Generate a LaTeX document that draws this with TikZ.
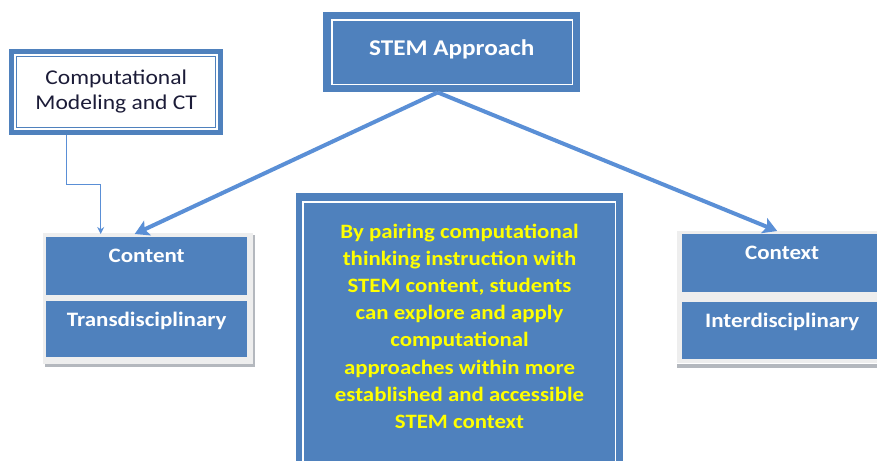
\documentclass[tikz,border=0pt]{standalone}
\usepackage{fontspec}
\setmainfont[FakeStretch=1.12]{Carlito}
\usetikzlibrary{arrows.meta}
\definecolor{boxblue}{HTML}{4F81BD}
\definecolor{linkblue}{HTML}{5A8FD6}
\definecolor{txtyellow}{HTML}{FFFF00}
\definecolor{navy}{HTML}{1C1C38}
\definecolor{panelgray}{HTML}{EEEEEE}
\definecolor{shadowgray}{HTML}{B4B8BE}
\tikzset{
  bluebox/.style={fill=boxblue, draw=none, inner sep=0pt, anchor=north west},
  cellbox/.style={fill=boxblue, draw=none, inner xsep=0pt, inner ysep=0pt,
     anchor=north west, text=white, font=\fontsize{20.5}{24}\selectfont\bfseries,
     text height=25pt},
  bigarrow/.style={draw=linkblue, line width=4pt, -{Stealth[length=14pt,width=16pt,inset=3pt]}},
  thinarrow/.style={draw=linkblue, line width=0.9pt, -{Stealth[length=7pt,width=7pt]}},
  whiteline/.style={draw=white, line width=1.6pt},
}
\begin{document}
\begin{tikzpicture}[x=1pt,y=-1pt]
\fill[white] (0,0) rectangle (877,460);
\useasboundingbox (0,0) rectangle (877,460);
\clip (0,0) rectangle (877,460);

% STEM Approach
\node[bluebox, minimum width=257pt, minimum height=80pt] (stem) at (323,12) {};
\draw[whiteline] ([shift={(9pt,-8pt)}]stem.north west) rectangle ([shift={(-8pt,8pt)}]stem.south east);
\node[text=white, font=\fontsize{22.5}{26}\selectfont\bfseries, inner sep=0pt] (stemtext) at ([yshift=2.5pt]stem.center) {STEM Approach};

% Computational Modeling and CT
\node[bluebox, minimum width=214pt, minimum height=86pt] (comp) at (9,49) {};
\fill[white] ([shift={(5pt,-5pt)}]comp.north west) rectangle ([shift={(-5pt,5pt)}]comp.south east);
\draw[draw=boxblue, line width=0.9pt] ([shift={(7.5pt,-7.5pt)}]comp.north west) rectangle ([shift={(-7.5pt,7.5pt)}]comp.south east);
\node[align=center, text=navy, font=\fontsize{21}{25}\selectfont, inner sep=0pt] (comptext) at ([yshift=1pt]comp.center) {Computational\\Modeling and CT};

% Content panel
\fill[shadowgray] (45,235) rectangle (255,367);
\node[fill=panelgray, inner sep=0pt, anchor=north west, minimum width=210pt, minimum height=131pt] (contentpanel) at (43,233) {};
\node[cellbox, minimum width=201pt, text depth=33pt] (content) at (46,237) {Content};
\node[cellbox, minimum width=201pt, text depth=31pt] (transd) at (46,301) {Transdisciplinary};

% Context panel
\fill[shadowgray] (677,364) rectangle (890,368);
\node[fill=panelgray, inner sep=0pt, anchor=north west, minimum width=213pt, minimum height=132pt] (contextpanel) at (677,231) {};
\node[cellbox, minimum width=200pt, text depth=33pt] (context) at (682,234) {Context};
\node[cellbox, minimum width=200pt, text depth=32pt] (interd) at (682,302) {Interdisciplinary};

% Centre text box
\node[bluebox, minimum width=327pt, minimum height=290pt] (para) at (296,193) {};
\draw[whiteline] ([shift={(7pt,-9pt)}]para.north west) rectangle ([shift={(-8pt,8pt)}]para.south east);
\node[align=center, text=txtyellow, font=\fontsize{20.4}{27.1}\selectfont\bfseries, inner sep=0pt, anchor=north] (paratext) at (459.5,224)
  {By pairing computational\\thinking instruction with\\STEM content, students\\can explore and apply\\computational\\approaches within more\\established and accessible\\STEM context};

% connectors
\coordinate (apex) at ([xshift=-14pt]stem.south);
\draw[bigarrow] (apex) -- ([xshift=-12pt,yshift=3pt]content.north);
\draw[bigarrow] (apex) -- ([xshift=-5pt,yshift=3pt]context.north);
\coordinate (bend1) at ([xshift=-50pt,yshift=-49pt]comp.south);
\draw[thinarrow] ([xshift=-50pt]comp.south) -- (bend1) -| ([xshift=-46pt,yshift=3pt]content.north);
\end{tikzpicture}
\end{document}
